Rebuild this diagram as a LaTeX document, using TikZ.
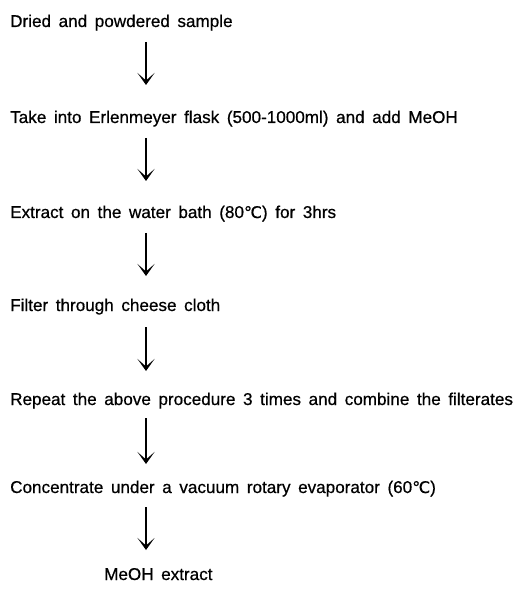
\documentclass[tikz,border=0pt]{standalone}
\usepackage{fontspec}
\setmainfont[WordSpace=1.6,FakeBold=0.6]{Liberation Sans}
\newfontfamily\symfont[FakeBold=0.6]{DejaVu Sans}
\usetikzlibrary{arrows.meta}
\tikzset{
  steptext/.style={anchor=base west, inner sep=0pt, font=\fontsize{17.1}{20}\selectfont},
  flowarrow/.style={line width=1.4pt, -{Stealth[length=12pt,width=17pt,inset=7.5pt]}}
}
\newcommand{\degC}{{\symfont\fontsize{16}{18}\selectfont ℃}}
\begin{document}
\begin{tikzpicture}[x=1pt,y=-1pt]
\useasboundingbox (0,0) rectangle (521,601);
\node[steptext] (s1) at (10,27) {Dried and powdered sample};
\node[steptext] (s2) at (10,123) {Take into Erlenmeyer flask (500-1000ml) and add MeOH};
\node[steptext] (s3) at (10,218) {Extract on the water bath (80\degC) for 3hrs};
\node[steptext] (s4) at (10,311) {Filter through cheese cloth};
\node[steptext] (s5) at (10,405) {Repeat the above procedure 3 times and combine the filterates};
\node[steptext] (s6) at (10,493) {Concentrate under a vacuum rotary evaporator (60\degC)};
\node[steptext] (s7) at (104,580) {MeOH extract};
\coordinate (a1s) at (146,42); \coordinate (a1e) at (146,85);
\coordinate (a2s) at (146,138); \coordinate (a2e) at (146,181);
\coordinate (a3s) at (146,233); \coordinate (a3e) at (146,276);
\coordinate (a4s) at (146,327); \coordinate (a4e) at (146,371);
\coordinate (a5s) at (146,418); \coordinate (a5e) at (146,464);
\coordinate (a6s) at (146,507); \coordinate (a6e) at (146,550);
\draw[flowarrow] (a1s) -- (a1e);
\draw[flowarrow] (a2s) -- (a2e);
\draw[flowarrow] (a3s) -- (a3e);
\draw[flowarrow] (a4s) -- (a4e);
\draw[flowarrow] (a5s) -- (a5e);
\draw[flowarrow] (a6s) -- (a6e);
\end{tikzpicture}
\end{document}
